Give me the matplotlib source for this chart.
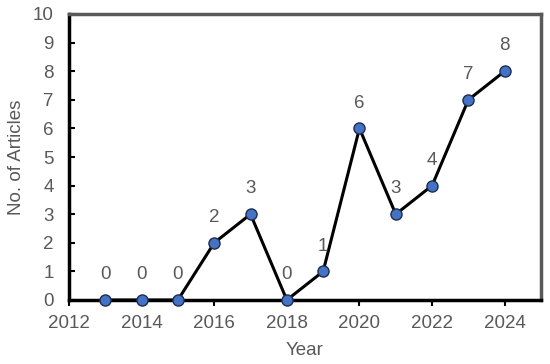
import matplotlib
matplotlib.use("Agg")
import matplotlib.pyplot as plt

plt.rcParams['font.family'] = ['Liberation Sans', 'DejaVu Sans']

years = [2013, 2014, 2015, 2016, 2017, 2018, 2019, 2020, 2021, 2022, 2023, 2024]
articles = [0, 0, 0, 2, 3, 0, 1, 6, 3, 4, 7, 8]

grey = '#595959'

fig = plt.figure(figsize=(5.5, 3.64), dpi=100)
ax = fig.add_axes([69 / 550, 64 / 364, 472 / 550, 286 / 364])

ax.plot(years, articles, color='black', lw=2.2, marker='o', markersize=8,
        markerfacecolor='#4472C4', markeredgecolor='#1F2D4D', markeredgewidth=1, zorder=3,
        clip_on=False)

for x, y in zip(years, articles):
    ax.annotate(str(y), (x, y), xytext=(0, 15), textcoords='offset points',
                ha='center', va='baseline', fontsize=13.5, color=grey)

ax.set_xlim(2012, 2025)
ax.set_ylim(0, 10)
ax.set_xticks(range(2012, 2025, 2))
ax.set_yticks(range(0, 11))
ax.tick_params(axis='x', direction='out', length=4, width=1.5, colors='black',
               labelcolor=grey, labelsize=13.5, pad=7)
ax.tick_params(axis='y', direction='in', length=4, width=1.5, colors='black',
               labelcolor=grey, labelsize=13.5, pad=11)

ax.spines['left'].set_linewidth(2.5)
ax.spines['bottom'].set_linewidth(2.5)
ax.spines['top'].set_linewidth(2.5)
ax.spines['right'].set_linewidth(2.5)
ax.spines['top'].set_color('#595959')
ax.spines['right'].set_color('#595959')

ax.set_xlabel('Year', fontsize=13.5, color=grey, labelpad=7)
ax.set_ylabel('No. of Articles', fontsize=13.5, color=grey, labelpad=6)

fig.savefig('out.png', dpi=100)
